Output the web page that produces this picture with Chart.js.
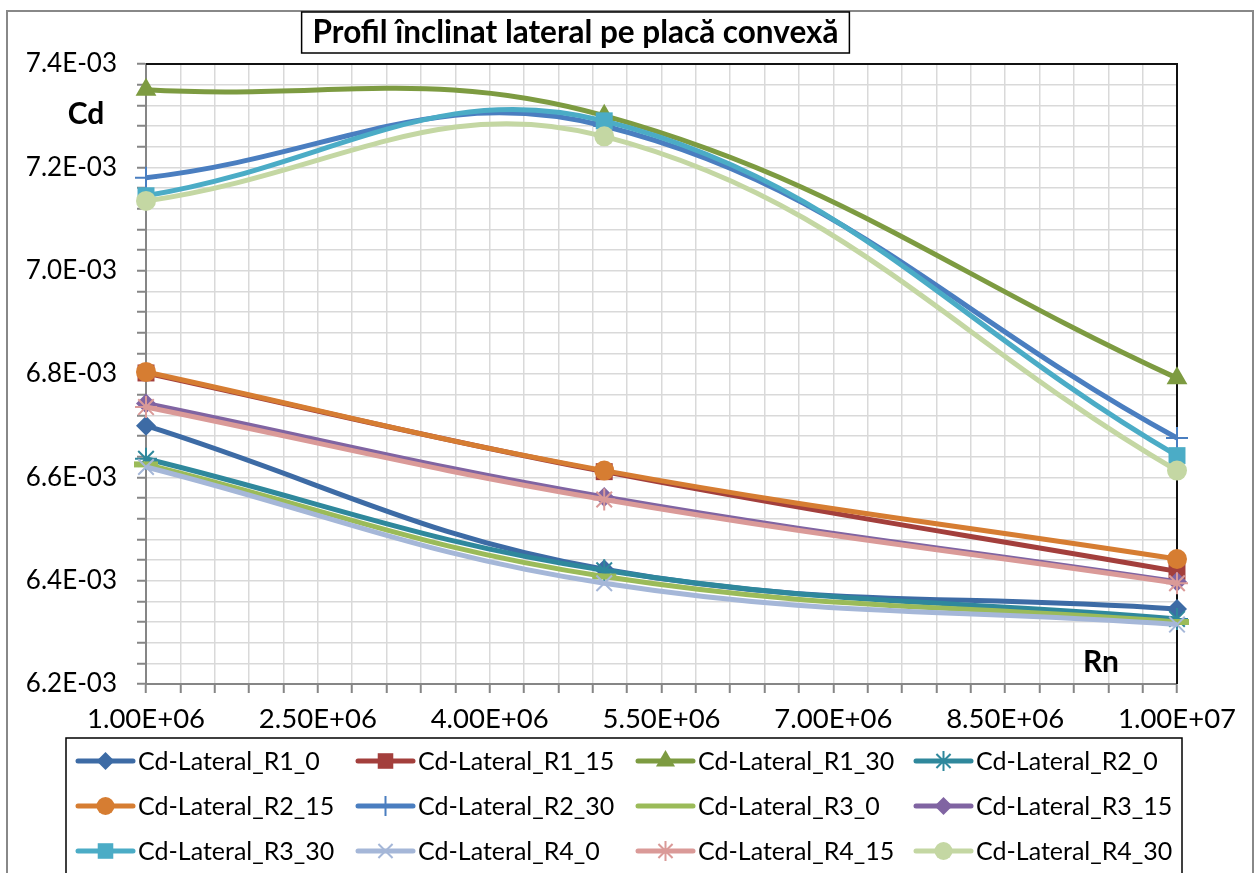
<!DOCTYPE html>
<html>
<head>
<meta charset="utf-8">
<script src="https://cdn.jsdelivr.net/npm/chart.js@4.4.1/dist/chart.umd.min.js"></script>
<style>
body{margin:0;background:#fff;}
#wrap{width:1260px;height:873px;position:relative;}
</style>
</head>
<body>
<div id="wrap"><canvas id="chart" width="1260" height="873"></canvas></div>
<script>
// DATA (Rn on x, Cd on y)
var rnValues = [1000000, 5000000, 10000000];

var cdR1_0  = [6.700e-3, 6.422e-3, 6.345e-3];
var cdR1_15 = [6.802e-3, 6.611e-3, 6.418e-3];
var cdR1_30 = [7.350e-3, 7.300e-3, 6.792e-3];
var cdR2_0  = [6.636e-3, 6.420e-3, 6.326e-3];
var cdR2_15 = [6.804e-3, 6.613e-3, 6.442e-3];
var cdR2_30 = [7.180e-3, 7.280e-3, 6.676e-3];
var cdR3_0  = [6.625e-3, 6.408e-3, 6.320e-3];
var cdR3_15 = [6.743e-3, 6.562e-3, 6.398e-3];
var cdR3_30 = [7.145e-3, 7.290e-3, 6.642e-3];
var cdR4_0  = [6.620e-3, 6.395e-3, 6.315e-3];
var cdR4_15 = [6.736e-3, 6.557e-3, 6.395e-3];
var cdR4_30 = [7.135e-3, 7.260e-3, 6.613e-3];

var seriesNames = ['Cd-Lateral_R1_0','Cd-Lateral_R1_15','Cd-Lateral_R1_30','Cd-Lateral_R2_0',
	'Cd-Lateral_R2_15','Cd-Lateral_R2_30','Cd-Lateral_R3_0','Cd-Lateral_R3_15',
	'Cd-Lateral_R3_30','Cd-Lateral_R4_0','Cd-Lateral_R4_15','Cd-Lateral_R4_30'];
var seriesValues = [cdR1_0, cdR1_15, cdR1_30, cdR2_0, cdR2_15, cdR2_30,
	cdR3_0, cdR3_15, cdR3_30, cdR4_0, cdR4_15, cdR4_30];

// tick ranges
var xMin = 1000000, xMax = 10000000, xMinorStep = 300000, xMajorStep = 1500000;
var yMin = 6.2e-3, yMax = 7.4e-3, yMinorStep = 4e-5, yMajorStep = 2e-4;

var titleText = 'Profil înclinat lateral pe placă convexă';
var yTitle = 'Cd';
var xTitle = 'Rn';

// STYLE
var seriesColors = ['#3D6BA5','#A33F3C','#7D9B41','#2F889C','#D67D32','#4A7EC0',
	'#9BBB59','#8064A2','#4BACC6','#A5B7D8','#DA9A98','#C4D7A3'];
var seriesMarkers = ['rectRot','rect','triangle','star','circle','cross',
	'line','rectRot','rect','crossRot','star','circle'];
var markerRadius = {rectRot:10, rect:12, triangle:12, star:11, circle:10, cross:11, line:12, crossRot:11};
var fontFamily = 'Lato, "Liberation Sans", sans-serif';

function sciLabel(v, digits){
	var s = v.toExponential(digits).toUpperCase();
	var parts = s.split('E');
	var e = parseInt(parts[1], 10);
	var a = Math.abs(e);
	return parts[0] + 'E' + (e < 0 ? '-' : '+') + (a < 10 ? '0' : '') + a;
}

function isStroked(style){
	return style == 'star' || style == 'cross' || style == 'crossRot' || style == 'line';
}

//BUILD DATASETS
var datasets = [];
for(var i=0;i<seriesNames.length;i++){
	var pts = [];
	for(var j=0;j<rnValues.length;j++){
		pts.push({x: rnValues[j], y: seriesValues[i][j]});
	}
	var st = seriesMarkers[i];
	datasets.push({
		label: seriesNames[i],
		data: pts,
		borderColor: seriesColors[i],
		backgroundColor: seriesColors[i],
		borderWidth: 5,
		tension: 0.4,
		pointStyle: st,
		pointRadius: markerRadius[st],
		pointHoverRadius: markerRadius[st],
		pointBorderWidth: st == 'line' ? 6 : (isStroked(st) ? 2 : 0),
		pointBorderColor: seriesColors[i],
		pointBackgroundColor: seriesColors[i],
		order: seriesNames.length - i,
		clip: false
	});
}

//DECORATIONS (frame, title box, axis names, legend)
var decoPlugin = {
	id: 'deco',
	beforeDraw: function(chart){
		var c = chart.ctx;
		c.save();
		c.fillStyle = '#fff';
		c.fillRect(0, 0, chart.width, chart.height);
		c.strokeStyle = '#888';
		c.lineWidth = 2;
		c.strokeRect(7, 11, 1246, 880);
		c.restore();
	},
	beforeDatasetsDraw: function(chart){
		var a = chart.chartArea;
		var c = chart.ctx;
		c.save();
		c.strokeStyle = '#111';
		c.lineWidth = 2;
		c.beginPath();
		c.moveTo(a.left, a.top);
		c.lineTo(a.right, a.top);
		c.lineTo(a.right, a.bottom);
		c.stroke();
		c.restore();
	},
	afterDraw: function(chart){
		var c = chart.ctx;
		c.save();
		// title box
		c.font = 'bold 31.5px ' + fontFamily;
		var tw = c.measureText(titleText).width;
		var tx = 575.5;
		c.fillStyle = '#fff';
		c.fillRect(tx - tw/2 - 11, 12, tw + 22, 41);
		c.strokeStyle = '#000';
		c.lineWidth = 1.5;
		c.strokeRect(tx - tw/2 - 11, 12, tw + 22, 41);
		c.fillStyle = '#000';
		c.textAlign = 'center';
		c.textBaseline = 'middle';
		c.fillText(titleText, tx, 33);
		// axis names
		c.font = 'bold 30px ' + fontFamily;
		c.fillText(yTitle, 86, 114);
		c.fillText(xTitle, 1101, 662);
		// legend
		c.lineWidth = 1.5;
		c.strokeStyle = '#000';
		c.strokeRect(66, 738, 1116, 140);
		var cols = [78, 358, 638, 916];
		var rows = [761, 806, 851];
		c.font = '25px ' + fontFamily;
		c.textAlign = 'left';
		for(var k=0;k<seriesNames.length;k++){
			var x0 = cols[k % 4];
			var y0 = rows[Math.floor(k / 4)];
			var col = seriesColors[k];
			c.strokeStyle = col;
			c.fillStyle = col;
			c.lineWidth = 5;
			c.lineCap = 'round';
			c.beginPath();
			c.moveTo(x0, y0);
			c.lineTo(x0 + 55, y0);
			c.stroke();
			c.lineCap = 'butt';
			var st = seriesMarkers[k];
			if(st != 'line'){
				c.lineWidth = 2;
				Chart.helpers.drawPoint(c, {pointStyle: st, rotation: 0, radius: markerRadius[st] - 1, borderWidth: isStroked(st) ? 2 : 0}, x0 + 27.5, y0);
			}
			c.fillStyle = '#000';
			c.fillText(seriesNames[k], x0 + 60, y0 + 1);
		}
		c.restore();
	}
};

//PRINT CHART
var ctx = document.getElementById('chart');

new Chart(ctx, {
	type: 'line',
	data: {
		datasets: datasets
	},
	options: {
		responsive: false,
		animation: false,
		events: [],
		layout: {
			padding: {left: 0, right: 83, top: 64, bottom: 139}
		},
		elements: {
			line: {capBezierPoints: false}
		},
		scales: {
			x: {
				type: 'linear',
				min: xMin,
				max: xMax,
				afterFit: function(scale){ scale.height = 50; },
				ticks: {
					stepSize: xMinorStep,
					autoSkip: false,
					maxRotation: 0,
					padding: 10,
					color: '#000',
					font: {family: fontFamily, size: 27.5},
					callback: function(value){
						var k = (value - xMin) / xMajorStep;
						if(Math.abs(k - Math.round(k)) < 1e-6) return sciLabel(value, 2);
						return '';
					}
				},
				grid: {color: '#d9d9d9', lineWidth: 1.5, tickLength: 9, tickColor: '#868686', tickWidth: 2},
				border: {color: '#868686', width: 2}
			},
			y: {
				type: 'linear',
				min: yMin,
				max: yMax,
				afterFit: function(scale){ scale.width = 146; },
				ticks: {
					stepSize: yMinorStep,
					autoSkip: false,
					padding: 20,
					color: '#000',
					font: {family: fontFamily, size: 26},
					callback: function(value){
						var n = Math.round(value * 1e5);
						if(n % 20 == 0) return sciLabel(value, 1);
						return '';
					}
				},
				grid: {color: '#d9d9d9', lineWidth: 1.5, tickLength: 9, tickColor: '#868686', tickWidth: 2},
				border: {color: '#868686', width: 2}
			}
		},
		plugins: {
			legend: {display: false},
			title: {display: false},
			tooltip: {enabled: false}
		}
	},
	plugins: [decoPlugin]
});
</script>
</body>
</html>
